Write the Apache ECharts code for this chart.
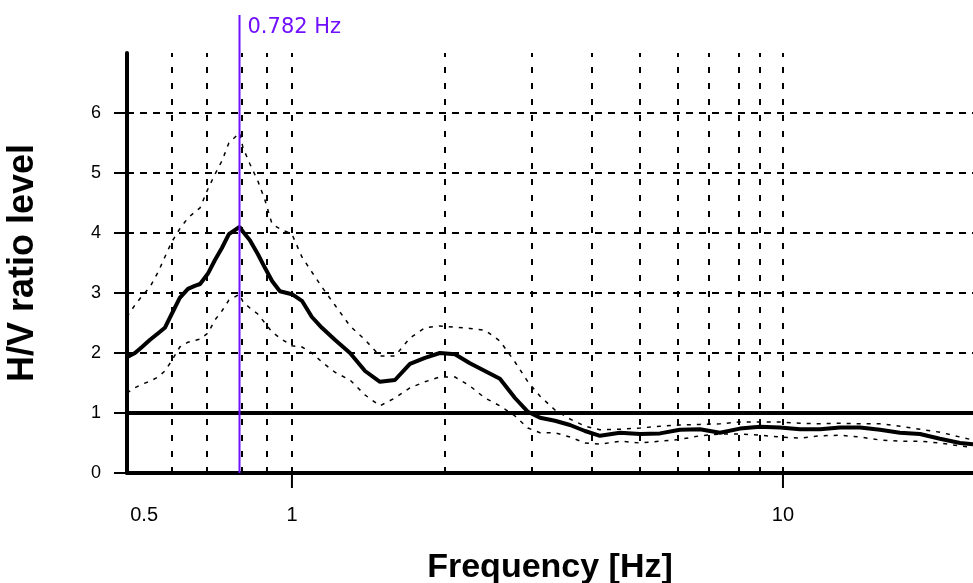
<!DOCTYPE html>
<html>
<head>
<meta charset="UTF-8">
<title>H/V ratio</title>
<script src="https://cdn.jsdelivr.net/npm/echarts@6/dist/echarts.min.js"></script>
<style>
  html, body { margin: 0; padding: 0; background: #fff; }
  #chart { width: 973px; height: 583px; }
</style>
</head>
<body>
<div id="chart"></div>
<script>
// frequencies (Hz) where the curves were read
var freqs = [0.461, 0.479, 0.495, 0.514, 0.534, 0.551, 0.569, 0.591, 0.614, 0.634,
  0.650, 0.674, 0.697, 0.720, 0.744, 0.782, 0.795, 0.821, 0.852, 0.881,
  0.911, 0.945, 1.0, 1.048, 1.098, 1.151, 1.223, 1.313, 1.409, 1.511,
  1.621, 1.739, 1.866, 2.001, 2.148, 2.304, 2.472, 2.652, 2.846, 3.024,
  3.201, 3.433, 3.684, 3.952, 4.240, 4.656, 5.114, 5.618, 6.169, 6.776,
  7.441, 8.172, 8.979, 9.86, 10.83, 11.90, 13.07, 14.35, 15.76, 17.31,
  19.01, 20.88, 22.94, 24.38];
// mean H/V curve
var hvMean = [1.93, 2.0, 2.1, 2.22, 2.33, 2.42, 2.65, 2.92, 3.07, 3.12,
  3.15, 3.32, 3.55, 3.75, 3.98, 4.1, 4.02, 3.88, 3.65, 3.42,
  3.2, 3.03, 2.98, 2.87, 2.6, 2.42, 2.22, 2.0, 1.7, 1.52,
  1.55, 1.82, 1.92, 2.0, 1.98, 1.83, 1.7, 1.57, 1.25, 1.02,
  0.92, 0.87, 0.8, 0.7, 0.62, 0.67, 0.65, 0.66, 0.72, 0.73,
  0.67, 0.74, 0.77, 0.76, 0.73, 0.73, 0.76, 0.76, 0.72, 0.67,
  0.65, 0.57, 0.5, 0.48];
// mean + std
var hvUpper = [2.6, 2.8, 2.95, 3.1, 3.35, 3.6, 3.85, 4.07, 4.25, 4.35,
  4.42, 4.73, 4.98, 5.2, 5.5, 5.67, 5.42, 5.15, 4.87, 4.55,
  4.15, 4.07, 3.98, 3.6, 3.35, 3.1, 2.8, 2.45, 2.22, 1.95,
  1.95, 2.25, 2.42, 2.45, 2.43, 2.41, 2.38, 2.2, 1.85, 1.52,
  1.28, 1.05, 0.9, 0.78, 0.72, 0.73, 0.75, 0.78, 0.8, 0.81,
  0.82, 0.85, 0.85, 0.85, 0.83, 0.82, 0.83, 0.82, 0.82, 0.78,
  0.73, 0.68, 0.6, 0.55];
// mean - std
var hvLower = [1.33, 1.42, 1.48, 1.53, 1.6, 1.7, 1.87, 2.1, 2.18, 2.21,
  2.23, 2.33, 2.55, 2.7, 2.88, 2.98, 2.85, 2.75, 2.65, 2.5,
  2.35, 2.25, 2.12, 2.1, 2.0, 1.85, 1.68, 1.55, 1.3, 1.12,
  1.25, 1.42, 1.52, 1.6, 1.6, 1.45, 1.25, 1.12, 0.95, 0.75,
  0.67, 0.67, 0.6, 0.5, 0.48, 0.53, 0.5, 0.53, 0.56, 0.62,
  0.65, 0.65, 0.63, 0.6, 0.58, 0.62, 0.63, 0.6, 0.55, 0.53,
  0.53, 0.5, 0.45, 0.43];

var peakFreq = 0.782;
var peakLabel = '0.782 Hz';
var xLabelValues = [0.5, 1, 10];
var xTickValues = [1, 10];
var yTickValues = [0, 1, 2, 3, 4, 5, 6];
var gridFreqs = [0.57, 0.67, 0.79, 0.89, 1, 2.05, 3.08, 4.08, 5.1, 6.1, 7.07, 8.13, 8.98, 10];
var gridLevels = [2, 3, 4, 5, 6];
var refLevel = 1;

function pairs(ys) {
  return freqs.map(function (f, i) { return [f, ys[i]]; });
}

var xMin = 0.4614, xMax = 24.38;

var dashMarks = [];
gridFreqs.forEach(function (f) {
  dashMarks.push({ xAxis: f, lineStyle: { type: [6, 10] } });
});
gridLevels.forEach(function (v) {
  dashMarks.push({ yAxis: v, lineStyle: { type: [7, 6] } });
});
dashMarks.push({ yAxis: refLevel, lineStyle: { type: 'solid', width: 4 } });

var series = [{
  type: 'line', xAxisIndex: 0, yAxisIndex: 0, z: 1,
  data: [[xMin, 0]], symbol: 'none', lineStyle: { width: 0 },
  markLine: {
    silent: true, symbol: 'none', label: { show: false },
    lineStyle: { color: '#000', width: 2 },
    data: dashMarks
  }
}, {
  name: 'upper', type: 'line', xAxisIndex: 0, yAxisIndex: 0, z: 3,
  data: pairs(hvUpper), symbol: 'none',
  lineStyle: { color: '#000', width: 1.5, type: [4, 6] }
}, {
  name: 'lower', type: 'line', xAxisIndex: 0, yAxisIndex: 0, z: 3,
  data: pairs(hvLower), symbol: 'none',
  lineStyle: { color: '#000', width: 1.5, type: [4, 6] }
}, {
  name: 'H/V', type: 'line', xAxisIndex: 0, yAxisIndex: 0, z: 4,
  data: pairs(hvMean), symbol: 'none',
  lineStyle: { color: '#000', width: 4 }
}, {
  name: 'peak', type: 'line', xAxisIndex: 1, yAxisIndex: 1, z: 5,
  symbol: 'none', lineStyle: { color: '#7010ff', width: 2 },
  data: [[peakFreq, 0], [peakFreq, 1]],
  endLabel: {
    show: true, formatter: peakLabel, distance: 8, offset: [0, 13],
    fontFamily: 'DejaVu Sans', fontSize: 21, color: '#7010ff'
  }
}];

// decade ticks under the x axis
xTickValues.forEach(function (v) {
  series.push({
    type: 'line', xAxisIndex: 2, yAxisIndex: 2, symbol: 'none', silent: true,
    lineStyle: { color: '#000', width: 2 },
    data: [[v, 0], [v, 1]]
  });
});

var chart = echarts.init(document.getElementById('chart'));
var option = {
  animation: false,
  backgroundColor: '#fff',
  grid: [
    // main plot
    { left: 127, right: 0, top: 53, bottom: 110, outerBoundsMode: 'none' },
    // taller strip for the peak marker
    { left: 127, right: 0, top: 15, bottom: 110, outerBoundsMode: 'none' },
    // strip under the x axis for the decade ticks
    { left: 127, right: 0, top: 473, height: 15, outerBoundsMode: 'none' }
  ],
  xAxis: [{
    type: 'log', gridIndex: 0, min: xMin, max: xMax,
    name: 'Frequency [Hz]', nameLocation: 'middle', nameGap: 78,
    nameTextStyle: { fontFamily: 'Liberation Sans', fontWeight: 'bold', fontSize: 34, color: '#000' },
    axisLine: { lineStyle: { color: '#000', width: 4 } },
    axisTick: { show: false },
    axisLabel: { customValues: xLabelValues, margin: 32, fontFamily: 'Liberation Sans', fontSize: 20, color: '#000' },
    splitLine: { show: false }
  }, {
    type: 'log', gridIndex: 1, min: xMin, max: xMax, show: false
  }, {
    type: 'log', gridIndex: 2, min: xMin, max: xMax, show: false
  }],
  yAxis: [{
    type: 'value', gridIndex: 0, min: 0, max: 7, interval: 1,
    name: 'H/V ratio level', nameLocation: 'middle', nameGap: 86, nameRotate: 90,
    nameTextStyle: { fontFamily: 'Liberation Sans', fontWeight: 'bold', fontSize: 36, color: '#000' },
    axisLine: { show: true, lineStyle: { color: '#000', width: 4 } },
    axisTick: { show: true, customValues: yTickValues, length: 13, lineStyle: { color: '#000', width: 2 } },
    axisLabel: { customValues: yTickValues, margin: 26, fontFamily: 'Liberation Sans', fontSize: 18, color: '#000' },
    splitLine: { show: false }
  }, {
    type: 'value', gridIndex: 1, min: 0, max: 1, show: false
  }, {
    type: 'value', gridIndex: 2, min: 0, max: 1, show: false
  }],
  series: series
};
chart.setOption(option);
</script>
</body>
</html>
